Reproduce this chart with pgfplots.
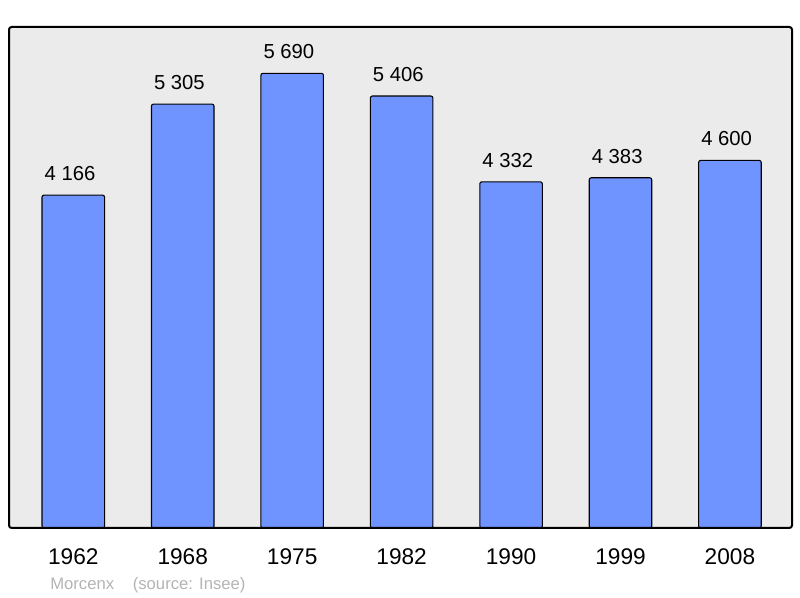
\documentclass[border=0pt]{standalone}
\usepackage{pgfplots}
\pgfplotsset{compat=1.18}
\usepackage{fontspec}
\setmainfont{Liberation Sans}

\definecolor{barblue}{RGB}{112,148,255}
\definecolor{panel}{RGB}{235,235,235}
\definecolor{footgray}{RGB}{180,180,180}

% 1 px of the reference = 0.75pt
\begin{document}
\begin{tikzpicture}
\path[use as bounding box] (0,0) rectangle (600pt,448.5pt);
\begin{axis}[
  at={(6.75pt,52.5pt)}, anchor=south west,
  scale only axis,
  width=587.25pt, height=375.75pt,
  xmin=-0.5875, xmax=6.567,
  ymin=0, ymax=6270,
  axis line style={draw=none},
  axis background/.style={fill=panel},
  ytick=\empty,
  xtick={0,1,2,3,4,5,6},
  xticklabels={1962,1968,1975,1982,1990,1999,2008},
  major tick length=0pt,
  xticklabel style={anchor=base, inner sep=0pt, yshift=-27.75pt, font=\fontsize{17}{20}\selectfont},
  ybar, bar width=46.9pt,
  point meta=explicit symbolic,
  nodes near coords,
  nodes near coords style={anchor=base west, inner sep=0pt, xshift=-21.9pt, yshift=11pt, font=\fontsize{15.2}{18}\selectfont},
  clip=false,
]
\addplot[fill=barblue, draw=black, line width=0.8pt, rounded corners=1.5pt]
  coordinates {
  (0,4166) [4 166]
  (1,5305) [5 305]
  (2,5690) [5 690]
  (3,5406) [5 406]
  (4,4332) [4 332]
  (5,4383) [4 383]
  (6,4600) [4 600]
  };
\draw[line width=1.5pt, rounded corners=2pt] (rel axis cs:0,0) rectangle (rel axis cs:1,1);
\end{axis}
\node[anchor=base west, inner sep=0pt, text=footgray, font=\fontsize{12.5}{15}\selectfont]
  at (37.5pt,6pt) {Morcenx\hspace{14pt}(source: Insee)};
\end{tikzpicture}
\end{document}
